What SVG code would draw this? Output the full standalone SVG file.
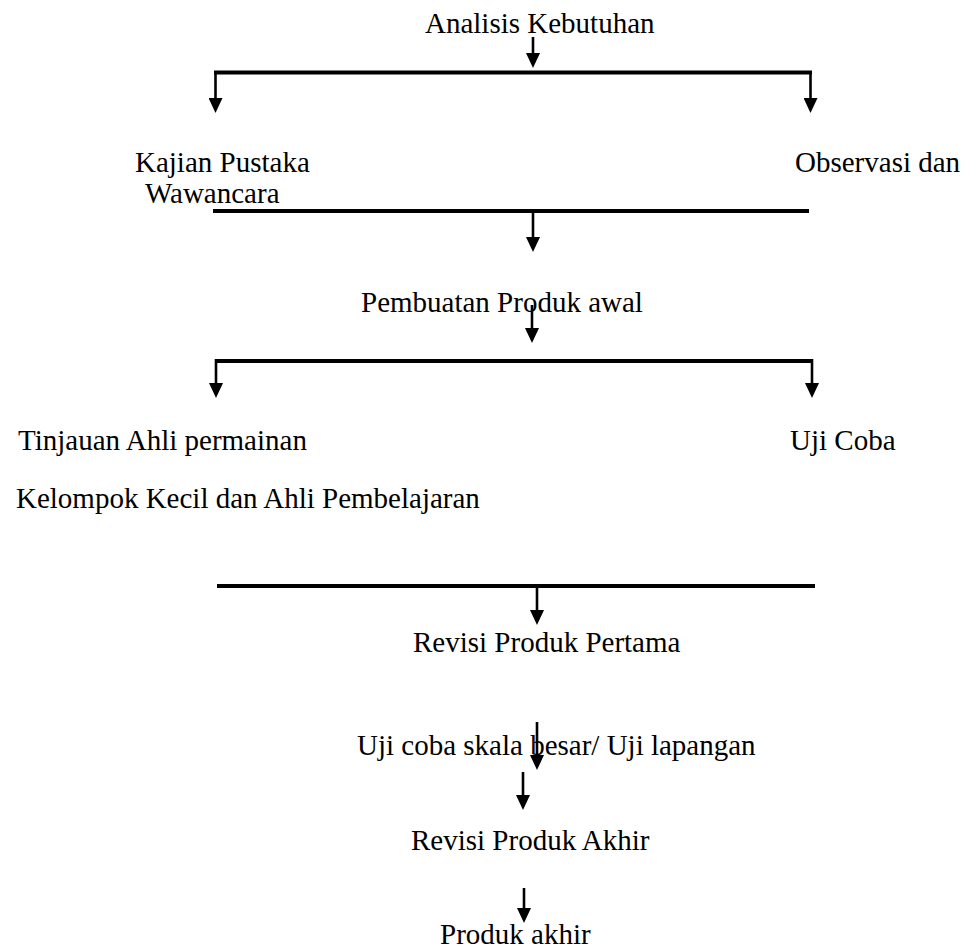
<svg xmlns="http://www.w3.org/2000/svg" width="968" height="952" viewBox="0 0 968 952">
<style>
text{font-family:"Liberation Serif","Times New Roman",serif;font-size:29px;fill:#000}
.bar{stroke:#000;stroke-width:3.8;fill:none}
.arr{stroke:#000;stroke-width:2.6;fill:none;marker-end:url(#ah)}
</style>
<defs>
<marker id="ah" viewBox="0 0 15 14" refX="8" refY="7" markerWidth="15" markerHeight="14" markerUnits="userSpaceOnUse" orient="auto">
<path d="M0,0 L15,7 L0,14 z" fill="#000"/>
</marker>
</defs>
<rect width="968" height="952" fill="#fff"/>
<g id="n-analisis"><text x="425" y="33">Analisis Kebutuhan</text></g>
<g id="n-kajian"><text x="135" y="172">Kajian Pustaka</text></g>
<g id="n-observasi"><text x="795" y="172">Observasi dan</text></g>
<g id="n-wawancara"><text x="145" y="203">Wawancara</text></g>
<g id="n-pembuatan"><text x="361" y="312">Pembuatan Produk awal</text></g>
<g id="n-tinjauan"><text x="18" y="450">Tinjauan Ahli permainan</text></g>
<g id="n-ujicoba"><text x="790" y="450">Uji Coba</text></g>
<g id="n-kelompok"><text x="16" y="508">Kelompok Kecil dan Ahli Pembelajaran</text></g>
<g id="n-revisi1"><text x="413" y="652">Revisi Produk Pertama</text></g>
<g id="n-ujiskala"><text x="357" y="755">Uji coba skala besar/ Uji lapangan</text></g>
<g id="n-revisi2"><text x="411" y="850">Revisi Produk Akhir</text></g>
<g id="n-produk"><text x="440" y="944">Produk akhir</text></g>
<g id="connectors">
<line class="arr" x1="533" y1="37" x2="533" y2="61"/>
<line class="bar" x1="214" y1="72.5" x2="812" y2="72.5"/>
<line class="arr" x1="215.5" y1="71" x2="215.5" y2="106"/>
<line class="arr" x1="810.5" y1="71" x2="810.5" y2="106"/>
<line class="bar" x1="213" y1="211" x2="809" y2="211"/>
<line class="arr" x1="533" y1="211" x2="533" y2="245"/>
<line class="arr" x1="532" y1="305" x2="532" y2="336"/>
<line class="bar" x1="216" y1="361" x2="812" y2="361"/>
<line class="arr" x1="216" y1="359" x2="216" y2="391"/>
<line class="arr" x1="812" y1="359" x2="812" y2="391"/>
<line class="bar" x1="217" y1="586" x2="815" y2="586"/>
<line class="arr" x1="537" y1="586" x2="537" y2="618"/>
<line class="arr" x1="537" y1="722" x2="537" y2="763"/>
<line class="arr" x1="523" y1="772" x2="523" y2="803"/>
<line class="arr" x1="524" y1="888" x2="524" y2="916"/>
</g>
</svg>
